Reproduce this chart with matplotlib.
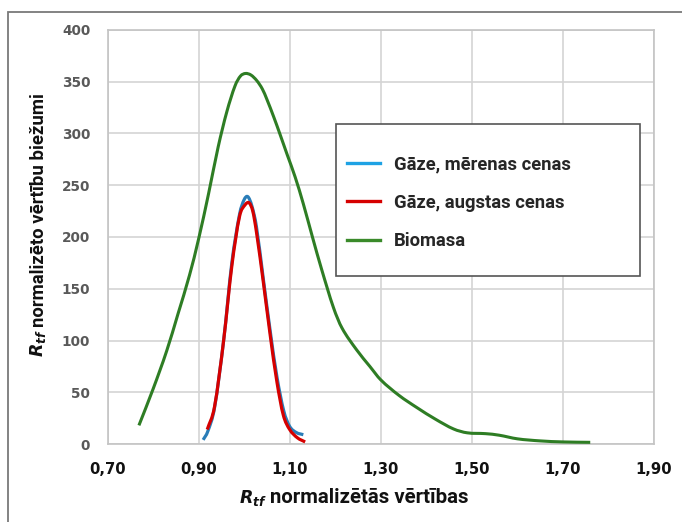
import matplotlib
matplotlib.use("Agg")
import matplotlib.pyplot as plt
from matplotlib.lines import Line2D
from matplotlib.patches import Rectangle, PathPatch
from matplotlib.path import Path
from matplotlib.font_manager import FontProperties

# Normalised R_tf values and their frequencies for each scenario
gas_moderate_x = [0.910, 0.920, 0.935, 0.955, 0.973, 0.990, 1.000, 1.008, 1.017,
                  1.027, 1.042, 1.057, 1.072, 1.087, 1.100, 1.115, 1.130]
gas_moderate_y = [4, 12, 35, 100, 175, 222, 236, 239, 230,
                  210, 160, 110, 65, 32, 17, 11, 9]

gas_high_x = [0.919, 0.935, 0.955, 0.973, 0.990, 1.002, 1.011, 1.019,
              1.027, 1.042, 1.057, 1.072, 1.086, 1.100, 1.117, 1.134]
gas_high_y = [14, 36, 100, 172, 220, 231, 233, 225,
              205, 157, 106, 60, 28, 14, 6, 2]

biomass_x = [0.769, 0.800, 0.830, 0.855, 0.880, 0.900, 0.922, 0.943, 0.962,
             0.980, 0.992, 1.003, 1.015, 1.028, 1.040, 1.050, 1.065, 1.079,
             1.095, 1.112, 1.130, 1.150, 1.170, 1.196, 1.215, 1.247, 1.276,
             1.300, 1.340, 1.380, 1.420, 1.460, 1.490, 1.530, 1.560, 1.600,
             1.650, 1.700, 1.760]
biomass_y = [18, 53, 90, 126, 163, 198, 242, 287, 321,
             346, 355.5, 358, 356.5, 351, 343, 333, 316, 299,
             279, 258, 232, 200, 169, 132, 112, 91, 75,
             62, 47, 35, 24, 14.5, 10.8, 10, 8.5, 5,
             3, 2, 1.6]

series_labels = ["Gāze, mērenas cenas", "Gāze, augstas cenas", "Biomasa"]
curve_colors = ["#2a7db8", "#d60000", "#2e7d24"]
legend_colors = ["#1ea2e4", "#d60000", "#3a8a2a"]

x_ticks = [0.70, 0.90, 1.10, 1.30, 1.50, 1.70, 1.90]
x_tick_labels = ["0,70", "0,90", "1,10", "1,30", "1,50", "1,70", "1,90"]
y_ticks = [0, 50, 100, 150, 200, 250, 300, 350, 400]

x_title = "normalizētās vērtības"
y_title = "normalizēto vērtību biežumi"
symbol = r"$R_{tf}$"

TITLE_FONT = "Roboto"

plt.rcParams["mathtext.fontset"] = "custom"
plt.rcParams["mathtext.rm"] = "DejaVu Sans:bold"
plt.rcParams["mathtext.it"] = "DejaVu Sans:italic:bold"


def smooth_path(xs, ys):
    """Smooth C1 cubic Hermite curve (as Bezier segments) through the points."""
    n = len(xs)
    slopes = []
    for i in range(n):
        a = max(i - 1, 0)
        b = min(i + 1, n - 1)
        slopes.append((ys[b] - ys[a]) / (xs[b] - xs[a]))
    verts = [(xs[0], ys[0])]
    codes = [Path.MOVETO]
    for i in range(n - 1):
        dx = xs[i + 1] - xs[i]
        verts += [(xs[i] + dx / 3, ys[i] + slopes[i] * dx / 3),
                  (xs[i + 1] - dx / 3, ys[i + 1] - slopes[i + 1] * dx / 3),
                  (xs[i + 1], ys[i + 1])]
        codes += [Path.CURVE4] * 3
    return Path(verts, codes)


fig = plt.figure(figsize=(6.82, 5.22), dpi=100)
W, H = 682, 522
ax = fig.add_axes([107.5 / W, 1 - 444 / H, (654 - 107.5) / W, (444 - 30) / H])
renderer = fig.canvas.get_renderer()


def fitted_size(text, target_px, base=12.0):
    """Bold title-font size that makes `text` span target_px pixels."""
    t = fig.text(0, 0, text, fontsize=base, fontweight="bold",
                 family=TITLE_FONT)
    w = t.get_window_extent(renderer).width
    t.remove()
    return base * target_px / w


# outer chart frame (only left/top edges fall inside the canvas)
fig.patches.append(Rectangle((8 / W, -0.1), 1.2, 1 - 12 / H + 0.1,
                             transform=fig.transFigure, fill=False,
                             edgecolor="#7a7a7a", linewidth=1.3))

series = [(gas_moderate_x, gas_moderate_y, 2.3, 3),
          (gas_high_x, gas_high_y, 2.3, 4),
          (biomass_x, biomass_y, 2.2, 3)]
for (xs, ys, lw, z), col in zip(series, curve_colors):
    ax.add_patch(PathPatch(smooth_path(xs, ys), fill=False, edgecolor=col,
                           linewidth=lw, capstyle="butt", joinstyle="round",
                           zorder=z))

ax.set_xlim(0.70, 1.90)
ax.set_ylim(0, 400)
ax.set_xticks(x_ticks)
ax.set_xticklabels(x_tick_labels)
ax.set_yticks(y_ticks)
ax.grid(True, color="#d4d4d4", linewidth=1.2)
ax.set_axisbelow(True)
for s in ax.spines.values():
    s.set_color("#c4c4c4")
    s.set_linewidth(1.2)
ax.tick_params(length=0)
ax.tick_params(axis="x", pad=13, labelsize=10.6, labelcolor="#111111")
ax.tick_params(axis="y", pad=12.5, labelsize=9.8, labelcolor="#595959")
for lab in ax.get_xticklabels() + ax.get_yticklabels():
    lab.set_fontweight("bold")

# legend box
ax.add_patch(Rectangle(((336 - 107.5) / 546.5, (444 - 276) / 414),
                       (640 - 336) / 546.5, (276 - 124) / 414,
                       transform=ax.transAxes, facecolor="white",
                       edgecolor="#555555", linewidth=1.2, zorder=5,
                       clip_on=False))
leg_size = fitted_size(series_labels[0], 176)
handles = [Line2D([], [], color=c, lw=2.4) for c in legend_colors]
leg = ax.legend(handles, series_labels, loc="upper left",
                bbox_to_anchor=((347 - 107.5) / 546.5, (444 - 155) / 414),
                frameon=False, borderpad=0, borderaxespad=0,
                handlelength=1.8, handletextpad=0.75, labelspacing=1.12,
                prop=FontProperties(family=TITLE_FONT, weight="bold",
                                    size=leg_size))
leg.set_zorder(6)
for t in leg.get_texts():
    t.set_color("#262626")

# axis titles: italic symbol followed by plain bold words
gap = 3
xt_size = fitted_size(x_title, 198)
yt_size = fitted_size(y_title, 232)

xs_sym = fig.text(0, 0, symbol, fontsize=12.5, color="#111111",
                  ha="left", va="baseline")
xs_txt = fig.text(0, 0, x_title, fontsize=xt_size, fontweight="bold",
                  family=TITLE_FONT, color="#111111", ha="left",
                  va="baseline")
w_sym = xs_sym.get_window_extent(renderer).width
w_txt = xs_txt.get_window_extent(renderer).width
x0 = 354 - (w_sym + gap + w_txt) / 2
base = H - 503
xs_sym.set_position((x0 / W, base / H))
xs_txt.set_position(((x0 + w_sym + gap) / W, base / H))

ys_sym = fig.text(0, 0, symbol, fontsize=12.5, color="#111111", rotation=90,
                  ha="left", va="baseline", rotation_mode="anchor")
ys_txt = fig.text(0, 0, y_title, fontsize=yt_size, fontweight="bold",
                  family=TITLE_FONT, color="#111111", rotation=90,
                  ha="left", va="baseline", rotation_mode="anchor")
h_sym = ys_sym.get_window_extent(renderer).height
h_txt = ys_txt.get_window_extent(renderer).height
y_bottom = 225 + (h_sym + gap + h_txt) / 2      # pixel row of the lower end
col = 44
ys_txt.set_position((col / W, 1 - (y_bottom - h_sym - gap) / H))
ys_sym.set_position(((col - 0.5) / W, 1 - y_bottom / H))

fig.savefig("out.png", dpi=100)
